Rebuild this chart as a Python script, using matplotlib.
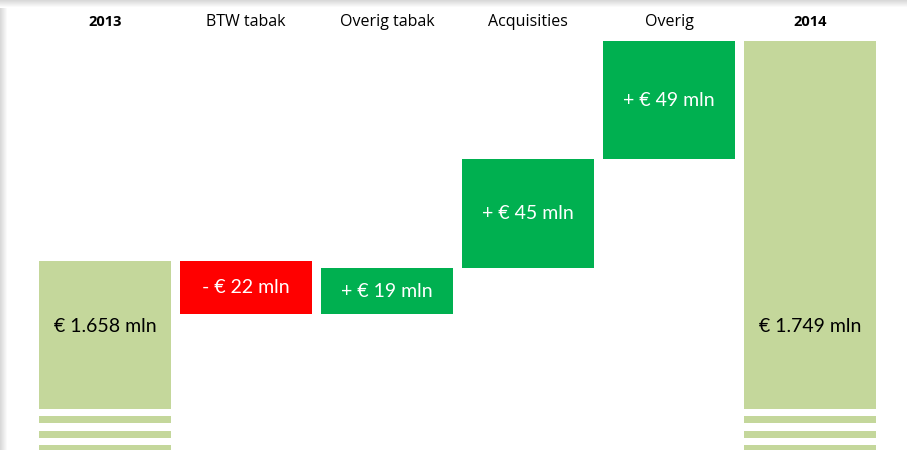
import matplotlib.pyplot as plt
import numpy as np

categories = ['2013', 'BTW tabak', 'Overig tabak', 'Acquisities', 'Overig', '2014']
start_value = 1658
changes = [-22, 19, 45, 49]
end_value = 1749
labels = ['€ 1.658 mln', '- € 22 mln', '+ € 19 mln', '+ € 45 mln', '+ € 49 mln', '€ 1.749 mln']

light_green = '#C4D79B'
red = '#FF0000'
green = '#00B050'

plt.rcParams['font.family'] = ['Lato', 'DejaVu Sans']

fig = plt.figure(figsize=(9.07, 4.5), dpi=100)
ax = fig.add_axes([0, 0, 1, 1])

ymin, ymax = 1579.8, 1765.9
ax.set_xlim(-0.745, 5.688)
ax.set_ylim(ymin, ymax)
width = 0.936

# totals
ax.bar(0, start_value - ymin, bottom=ymin, width=width, color=light_green)
ax.bar(5, end_value - ymin, bottom=ymin, width=width, color=light_green)

# steps
level = start_value
for i, c in enumerate(changes):
    x = i + 1
    bottom = level + min(c, 0)
    ax.bar(x, abs(c), bottom=bottom, width=width, color=red if c < 0 else green)
    ax.text(x, bottom + abs(c) / 2, labels[x], ha='center', va='center',
            color='white', fontsize=14)
    level += c

# total labels
ax.text(0, 1631, labels[0], ha='center', va='center', color='black', fontsize=14)
ax.text(5, 1631, labels[5], ha='center', va='center', color='black', fontsize=14)

# axis break stripes (white gaps across total bars)
for top_px, bot_px in [(409, 416), (423, 431), (438, 445)]:
    y0 = 1 - bot_px / 450
    y1 = 1 - top_px / 450
    ax.axhspan(ymin + y0 * (ymax - ymin), ymin + y1 * (ymax - ymin),
               color='white', lw=0, zorder=3)

# header labels
for i, cat in enumerate(categories):
    bold = cat in ('2013', '2014')
    ax.text(i, 1 - 22 / 450, cat, transform=ax.get_xaxis_transform(),
            ha='center', va='center', fontsize=11.5 if not bold else 10.5,
            family=['Open Sans', 'DejaVu Sans'],
            fontweight='bold' if bold else 'normal')

ax.axis('off')

# soft shadow along the top and left edge
grad = np.linspace(0.85, 1.0, 8)
for k, g in enumerate(grad):
    fig.patches.append(plt.Rectangle((0, 1 - (k + 1) / 450), 1, 1 / 450,
                                     transform=fig.transFigure, color=str(g), lw=0, zorder=10))
    fig.patches.append(plt.Rectangle((k / 907, 0), 1 / 907, 1 - 8 / 450,
                                     transform=fig.transFigure, color=str(g), lw=0, zorder=10))

fig.savefig('out.png', dpi=100)
